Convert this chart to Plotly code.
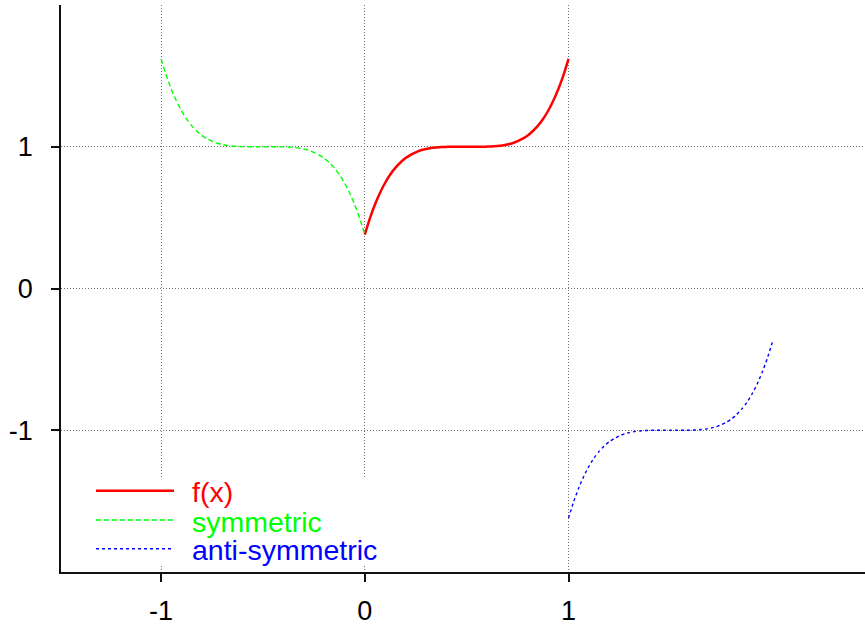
import plotly.graph_objects as go

# f(x) sampled on [0, 1]
x_f = [0.000, 0.025, 0.050, 0.075, 0.100, 0.125, 0.150, 0.175, 0.200, 0.225,
       0.250, 0.275, 0.300, 0.325, 0.350, 0.375, 0.400, 0.425, 0.450, 0.475,
       0.500, 0.525, 0.550, 0.575, 0.600, 0.625, 0.650, 0.675, 0.700, 0.725,
       0.750, 0.775, 0.800, 0.825, 0.850, 0.875, 0.900, 0.925, 0.950, 0.975,
       1.000]
y_f = [0.380, 0.495, 0.593, 0.676, 0.746, 0.804, 0.851, 0.889, 0.920, 0.943,
       0.961, 0.975, 0.984, 0.991, 0.995, 0.998, 0.999, 1.000, 1.000, 1.000,
       1.000, 1.000, 1.000, 1.000, 1.001, 1.002, 1.005, 1.009, 1.016, 1.025,
       1.039, 1.057, 1.080, 1.111, 1.149, 1.196, 1.254, 1.324, 1.407, 1.505,
       1.620]

# symmetric extension on [-1, 0]
x_sym = [-1.000, -0.975, -0.950, -0.925, -0.900, -0.875, -0.850, -0.825, -0.800, -0.775,
         -0.750, -0.725, -0.700, -0.675, -0.650, -0.625, -0.600, -0.575, -0.550, -0.525,
         -0.500, -0.475, -0.450, -0.425, -0.400, -0.375, -0.350, -0.325, -0.300, -0.275,
         -0.250, -0.225, -0.200, -0.175, -0.150, -0.125, -0.100, -0.075, -0.050, -0.025,
         0.000]
y_sym = [1.620, 1.505, 1.407, 1.324, 1.254, 1.196, 1.149, 1.111, 1.080, 1.057,
         1.039, 1.025, 1.016, 1.009, 1.005, 1.002, 1.001, 1.000, 1.000, 1.000,
         1.000, 1.000, 1.000, 1.000, 0.999, 0.998, 0.995, 0.991, 0.984, 0.975,
         0.961, 0.943, 0.920, 0.889, 0.851, 0.804, 0.746, 0.676, 0.593, 0.495,
         0.380]

# anti-symmetric extension on [1, 2]
x_anti = [1.000, 1.025, 1.050, 1.075, 1.100, 1.125, 1.150, 1.175, 1.200, 1.225,
          1.250, 1.275, 1.300, 1.325, 1.350, 1.375, 1.400, 1.425, 1.450, 1.475,
          1.500, 1.525, 1.550, 1.575, 1.600, 1.625, 1.650, 1.675, 1.700, 1.725,
          1.750, 1.775, 1.800, 1.825, 1.850, 1.875, 1.900, 1.925, 1.950, 1.975,
          2.000]
y_anti = [-1.620, -1.505, -1.407, -1.324, -1.254, -1.196, -1.149, -1.111, -1.080, -1.057,
          -1.039, -1.025, -1.016, -1.009, -1.005, -1.002, -1.001, -1.000, -1.000, -1.000,
          -1.000, -1.000, -1.000, -1.000, -0.999, -0.998, -0.995, -0.991, -0.984, -0.975,
          -0.961, -0.943, -0.920, -0.889, -0.851, -0.804, -0.746, -0.676, -0.593, -0.495,
          -0.380]

tick_vals = [-1, 0, 1]
tick_text = ["-1", "0", "1"]

series = [
    ("f(x)", x_f, y_f, "#ff0000", 2.5, "solid"),
    ("symmetric", x_sym, y_sym, "#00ff00", 1.4, "5px,3px"),
    ("anti-symmetric", x_anti, y_anti, "#0000ff", 1.4, "3px,3px"),
]

W, H = 865, 626
ML, MR, MT, MB = 61, 0, 5, 54
PW, PH = W - ML - MR, H - MT - MB


def px_x(p):
    return (p - ML) / PW


def px_y(p):
    return (H - MB - p) / PH


font_family = "Liberation Sans, Arial, sans-serif"

fig = go.Figure()
for name, xs, ys, color, width, dash in series:
    fig.add_trace(go.Scatter(
        x=xs, y=ys, mode="lines", name=name, showlegend=False,
        line=dict(color=color, width=width, dash=dash, shape="spline", smoothing=0.6),
    ))

# key box: opaque background over the grid, then a sample line and label per series
shapes = [dict(type="rect", xref="paper", yref="paper", layer="above",
               x0=px_x(63), x1=px_x(400), y0=px_y(564), y1=px_y(477),
               fillcolor="white", line=dict(width=0))]
annotations = []
key_rows = [490.7, 520.0, 548.7]
for (name, xs, ys, color, width, dash), row in zip(series, key_rows):
    shapes.append(dict(type="line", xref="paper", yref="paper", layer="above",
                       x0=px_x(96), x1=px_x(174), y0=px_y(row), y1=px_y(row),
                       line=dict(color=color, width=width, dash=dash)))
    annotations.append(dict(xref="paper", yref="paper", x=px_x(190), y=px_y(row + 1.5),
                            xanchor="left", yanchor="middle", showarrow=False,
                            text=name, font=dict(family=font_family, size=28.5, color=color)))

axis_common = dict(
    showline=True, linecolor="#111", linewidth=1.6, mirror=False,
    ticks="outside", ticklen=8, tickwidth=1.6, tickcolor="#111",
    showgrid=True, gridcolor="#6f6f6f", gridwidth=1, griddash="1px,2px",
    zeroline=False, tickvals=tick_vals, ticktext=tick_text, automargin=False,
    tickfont=dict(family=font_family, size=27, color="black"),
)

fig.update_layout(
    width=W, height=H,
    margin=dict(l=ML, r=MR, t=MT, b=MB, autoexpand=False),
    paper_bgcolor="white", plot_bgcolor="white",
    xaxis=dict(range=[-1.491, 2.455], ticklabelstandoff=6, **axis_common),
    yaxis=dict(range=[-2.0, 2.0], ticklabelstandoff=13, **axis_common),
    shapes=shapes, annotations=annotations,
)

fig.write_html("out.html")
